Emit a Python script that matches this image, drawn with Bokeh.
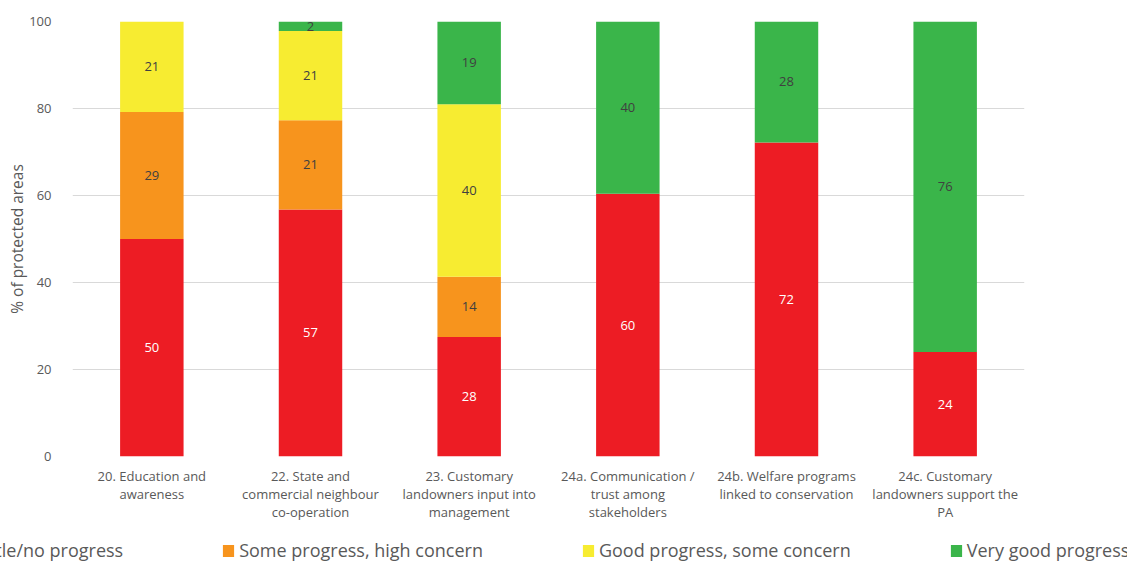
from bokeh.plotting import figure
from bokeh.models import (ColumnDataSource, FixedTicker, Legend, LegendItem, Range1d)
from bokeh.layouts import column
from bokeh.core.properties import value
from bokeh.embed import file_html
from bokeh.resources import INLINE

# ---- data ----
categories = [
    "20. Education and\nawareness",
    "22. State and\ncommercial neighbour\nco-operation",
    "23. Customary\nlandowners input into\nmanagement",
    "24a. Communication /\ntrust among\nstakeholders",
    "24b. Welfare programs\nlinked to conservation",
    "24c. Customary\nlandowners support the\nPA",
]
little_no_progress = [50.0, 56.8, 27.5, 60.4, 72.2, 24.0]
some_progress_high_concern = [29.2, 20.5, 13.8, 0.0, 0.0, 0.0]
good_progress_some_concern = [20.8, 20.5, 39.7, 0.0, 0.0, 0.0]
very_good_progress = [0.0, 2.2, 19.0, 39.6, 27.8, 76.0]

series_names = ["Little/no progress", "Some progress, high concern",
                "Good progress, some concern", "Very good progress"]
series_values = [little_no_progress, some_progress_high_concern,
                 good_progress_some_concern, very_good_progress]
series_colors = ["#ED1C24", "#F7941D", "#F7EC31", "#3AB54A"]
label_colors = ["#FFFFFF", "#404040", "#404040", "#404040"]
y_ticks = [0, 20, 40, 60, 80, 100]

FONT = "Open Sans"
GREY = "#595959"

W = 1127
H_MAIN, H_LEG = 533, 30

p = figure(width=W, height=H_MAIN, output_backend="svg", toolbar_location=None,
           x_range=Range1d(-0.5, len(categories) - 0.5), y_range=Range1d(0, 100),
           min_border_left=72, min_border_right=103, min_border_top=21,
           min_border_bottom=H_MAIN - 456)
p.outline_line_color = None
p.background_fill_color = "white"
p.border_fill_color = "white"

xs = list(range(len(categories)))
bottoms = [0.0] * len(categories)
for name, vals, col, lcol in zip(series_names, series_values, series_colors, label_colors):
    tops = [b + v for b, v in zip(bottoms, vals)]
    src = ColumnDataSource(dict(x=xs, bottom=bottoms, top=tops))
    p.vbar(x="x", bottom="bottom", top="top", width=0.4, source=src,
           fill_color=col, line_color=None)
    lx, ly, lt = [], [], []
    for i, v in enumerate(vals):
        if v > 0:
            lx.append(xs[i])
            ly.append((bottoms[i] + tops[i]) / 2)
            lt.append(str(int(v + 0.5)))
    p.text(x=lx, y=ly, text=lt, text_font=value(FONT), text_font_size="13px",
           text_color=lcol, text_align="center", text_baseline="middle")
    bottoms = tops

# axes
p.xgrid.grid_line_color = None
p.ygrid.grid_line_color = "#D9D9D9"
p.ygrid.grid_line_width = 1
p.yaxis.ticker = FixedTicker(ticks=y_ticks)
p.xaxis.ticker = FixedTicker(ticks=xs)
p.xaxis.major_label_overrides = {i: c for i, c in enumerate(categories)}

for ax in (p.xaxis[0], p.yaxis[0]):
    ax.axis_line_color = None
    ax.major_tick_line_color = None
    ax.minor_tick_line_color = None
    ax.major_label_text_font = FONT
    ax.major_label_text_font_size = "13px"
    ax.major_label_text_color = GREY

p.xaxis.major_label_standoff = 4
p.xaxis.major_label_text_line_height = 1.0
p.yaxis.major_label_standoff = 15
p.yaxis.axis_label = "% of protected areas"
p.yaxis.axis_label_text_font = FONT
p.yaxis.axis_label_text_font_size = "15.5px"
p.yaxis.axis_label_text_font_style = "normal"
p.yaxis.axis_label_text_color = GREY
p.yaxis.axis_label_standoff = -2

# ---- legend strip ----
pl = figure(width=W, height=H_LEG, output_backend="svg", toolbar_location=None,
            x_axis_type=None, y_axis_type=None,
            x_range=Range1d(0, W), y_range=Range1d(0, H_LEG),
            min_border_left=0, min_border_right=0, min_border_top=0, min_border_bottom=0)
pl.outline_line_color = None
pl.grid.grid_line_color = None
for fig in (p, pl):
    try:
        fig.frame_align = False
    except Exception:
        pass
# zero-size placeholder glyphs, only used to draw legend swatches
leg_renderers = [pl.vbar(x=[0], bottom=[0], top=[0], width=0, fill_color=c, line_color=None)
                 for c in series_colors]
legend = Legend(items=[LegendItem(label=n, renderers=[r]) for n, r in zip(series_names, leg_renderers)],
                orientation="horizontal", location=(-43, 1),
                glyph_width=14, glyph_height=15, label_standoff=4, spacing=98,
                padding=0, margin=0, border_line_color=None, background_fill_alpha=0,
                label_text_font=FONT, label_text_font_size="18px",
                label_text_color=GREY)
pl.add_layout(legend)

layout = column(p, pl, spacing=0)
open("out.html", "w").write(file_html(layout, INLINE))
